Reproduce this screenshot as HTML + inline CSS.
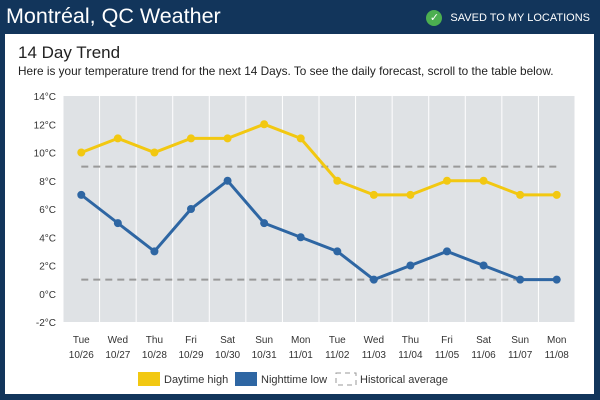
<!DOCTYPE html>
<html><head><meta charset="utf-8"><style>
body{margin:0;width:600px;height:400px;background:#12355b;font-family:"Liberation Sans",sans-serif;overflow:hidden;position:relative}
.h{position:absolute;left:6px;top:4px;color:#fff;font-size:21.5px}
.s{position:absolute;right:10px;top:10px;color:#fff;font-size:11px;display:flex;align-items:center;gap:8px}
.ck{width:16px;height:16px;border-radius:50%;background:#4caf50;color:#fff;font-size:11px;text-align:center;line-height:16px}
.card{position:absolute;left:5px;top:34px;width:589px;height:360px;background:#fff}
</style></head><body>
<div class="h">Montréal, QC Weather</div>
<div class="s"><span class="ck">✓</span>SAVED TO MY LOCATIONS</div>
<div class="card"></div>
<svg id="c" width="600" height="400" style="position:absolute;left:0;top:0">
<text x="18" y="58" font-size="17" fill="#222">14 Day Trend</text>
<text x="18" y="75" font-size="11.8" fill="#222">Here is your temperature trend for the next 14 Days. To see the daily forecast, scroll to the table below.</text>
</svg>
<script>
const days=["Tue","Wed","Thu","Fri","Sat","Sun","Mon","Tue","Wed","Thu","Fri","Sat","Sun","Mon"];
const dates=["10/26","10/27","10/28","10/29","10/30","10/31","11/01","11/02","11/03","11/04","11/05","11/06","11/07","11/08"];
const highs=[10,11,10,11,11,12,11,8,7,7,8,8,7,7];
const lows=[7,5,3,6,8,5,4,3,1,2,3,2,1,1];
const histHigh=9, histLow=1;
const yTicks=[-2,0,2,4,6,8,10,12,14];
const svg=document.getElementById('c'),NS="http://www.w3.org/2000/svg";
const L=63,R=575,T=96,B=322,cw=(R-L)/days.length;
const x=i=>L+cw*(i+0.5), y=v=>B-(v+2)*(B-T)/16;
function mk(t,a,txt){const e=document.createElementNS(NS,t);for(const k in a)e.setAttribute(k,a[k]);if(txt!=null)e.textContent=txt;svg.appendChild(e);return e;}
days.forEach((d,i)=>{
 const r=mk('rect',{x:L+cw*i+0.5,y:T,width:cw-1,height:B-T,fill:'#dfe2e5'});
 
 
 const a=mk('text',{x:x(i),y:343,'font-size':10,fill:'#333','text-anchor':'middle'},d);
 
 
 const b=mk('text',{x:x(i),y:358,'font-size':10,fill:'#333','text-anchor':'middle'},dates[i]);
 
 
});
yTicks.forEach(v=>{const t=mk('text',{x:56,y:y(v)+4,'font-size':10,fill:'#333','text-anchor':'end'},v+'°C');
 
 });
[histHigh,histLow].forEach(v=>{const l=mk('line',{x1:x(0),x2:x(13),y1:y(v),y2:y(v),stroke:'#999','stroke-width':2,'stroke-dasharray':'7,5'});
 
 });
[[highs,'#f2c811','daytime-high'],[lows,'#2e66a3','nighttime-low']].forEach(([s,c,n])=>{
 const p=mk('polyline',{points:s.map((v,i)=>x(i)+','+y(v)).join(' '),fill:'none',stroke:c,'stroke-width':3});
 
 
 s.forEach((v,i)=>{const q=mk('circle',{cx:x(i),cy:y(v),r:4,fill:c});
  
  });
});
const lg=[[138,'#f2c811','Daytime high'],[235,'#2e66a3','Nighttime low']];
lg.forEach(([lx,c,t])=>{const r=mk('rect',{x:lx,y:372,width:22,height:14,fill:c});
 
 
 const tx=mk('text',{x:lx+26,y:383,'font-size':11,fill:'#333'},t);
 
 });
const hr=mk('rect',{x:336,y:373,width:20,height:12,fill:'none',stroke:'#999','stroke-dasharray':'5,4'});


const ht=mk('text',{x:360,y:383,'font-size':11,fill:'#333'},'Historical average');


</script>
</body></html>
